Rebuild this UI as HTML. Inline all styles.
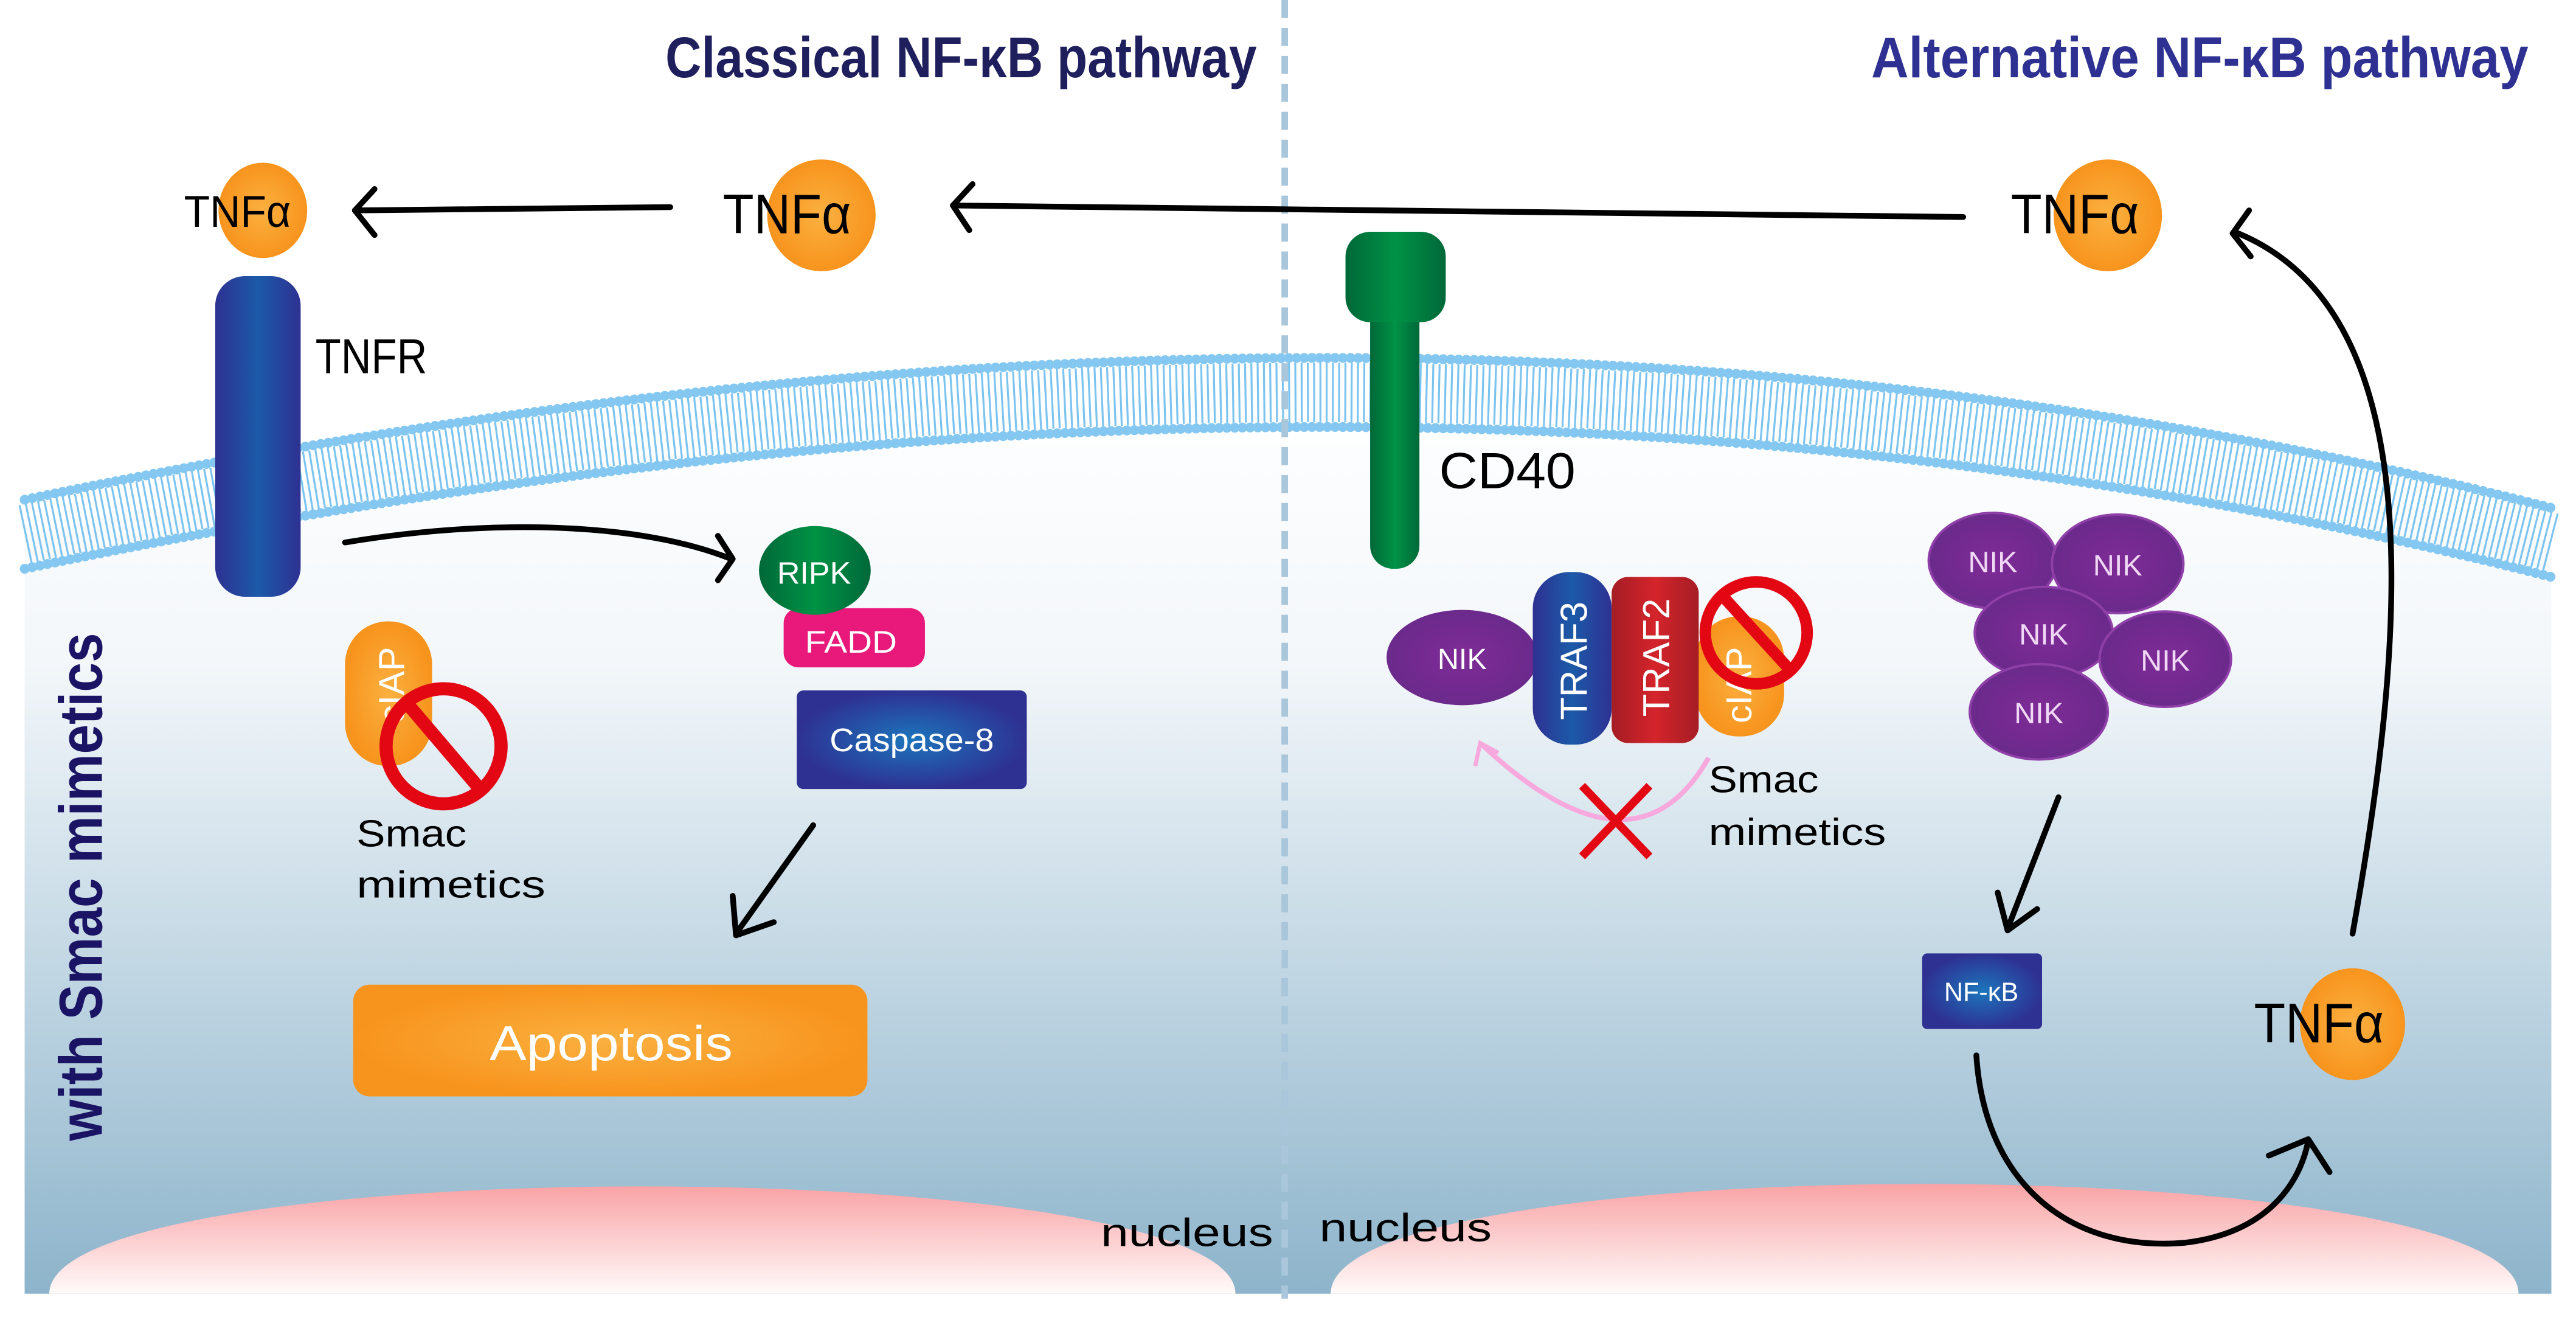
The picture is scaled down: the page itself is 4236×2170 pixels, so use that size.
<!DOCTYPE html>
<html><head><meta charset="utf-8"><style>html,body{margin:0;padding:0;background:#fff;}svg{display:block;}</style></head>
<body>
<svg width="4236" height="2170" viewBox="0 0 1568 803" preserveAspectRatio="none" xmlns="http://www.w3.org/2000/svg" font-family="Liberation Sans, sans-serif">
<defs>
<linearGradient id="cell" x1="0" y1="0" x2="0" y2="1" gradientUnits="objectBoundingBox">
<stop offset="0" stop-color="#ffffff"/><stop offset="0.3" stop-color="#f3f7fa"/><stop offset="1" stop-color="#8db4cb"/></linearGradient>
<linearGradient id="nuc" x1="0" y1="0" x2="0" y2="1"><stop offset="0" stop-color="#f9a3a5"/><stop offset="1" stop-color="#fffafa"/></linearGradient>
<radialGradient id="org"><stop offset="0" stop-color="#fbb040"/><stop offset="1" stop-color="#f7941d"/></radialGradient>
<radialGradient id="blu"><stop offset="0" stop-color="#1c75bc"/><stop offset="1" stop-color="#2e3192"/></radialGradient>
<linearGradient id="bluh" x1="0" x2="1"><stop offset="0" stop-color="#2e3192"/><stop offset="0.5" stop-color="#1c5aa8"/><stop offset="1" stop-color="#2e3192"/></linearGradient>
<linearGradient id="grn" x1="0" x2="1"><stop offset="0" stop-color="#006838"/><stop offset="0.5" stop-color="#009245"/><stop offset="1" stop-color="#006838"/></linearGradient>
<radialGradient id="pur"><stop offset="0" stop-color="#7f2b97"/><stop offset="1" stop-color="#6b2a8c"/></radialGradient>
<linearGradient id="red" x1="0" x2="1"><stop offset="0" stop-color="#a51d24"/><stop offset="0.5" stop-color="#d4242b"/><stop offset="1" stop-color="#a51d24"/></linearGradient>
</defs>
<rect width="1568" height="803" fill="#fff"/>
<path d="M15,325 Q850,150 1553,330 L1553,787 L15,787 Z" fill="url(#cell)"/>
<path d="M30,787 C30,700 752,700 752,787 Z" fill="url(#nuc)"/>
<path d="M810,787 C810,698 1533,698 1533,787 Z" fill="url(#nuc)"/>
<!-- membrane -->
<path d="M15,325 Q850,150 1553,330" fill="none" stroke="#7cc4f0" stroke-width="36" stroke-dasharray="1.2 2.6"/>
<path d="M15,304 Q850,129 1553,309" fill="none" stroke="#84c8f2" stroke-width="6" stroke-dasharray="0.1 4.6" stroke-linecap="round"/>
<path d="M15,346 Q850,171 1553,351" fill="none" stroke="#84c8f2" stroke-width="6" stroke-dasharray="0.1 4.6" stroke-linecap="round"/>
<line x1="782" y1="0" x2="782" y2="790" stroke="#a9c6da" stroke-width="4" stroke-dasharray="11 6"/>
<text x="405" y="47" font-size="35" font-weight="bold" fill="#1f1f5e" textLength="360" lengthAdjust="spacingAndGlyphs">Classical NF-κB pathway</text>
<text x="1139" y="47" font-size="35" font-weight="bold" fill="#2e3192" textLength="400" lengthAdjust="spacingAndGlyphs">Alternative NF-κB pathway</text>
<ellipse cx="160" cy="128" rx="27" ry="29" fill="url(#org)"/>
<text x="112" y="138" font-size="27" textLength="65" lengthAdjust="spacingAndGlyphs">TNFα</text>
<ellipse cx="500" cy="131" rx="33" ry="34" fill="url(#org)"/>
<text x="440" y="142" font-size="34" textLength="78" lengthAdjust="spacingAndGlyphs">TNFα</text>
<ellipse cx="1283" cy="131" rx="33" ry="34" fill="url(#org)"/>
<text x="1224" y="142" font-size="34" textLength="78" lengthAdjust="spacingAndGlyphs">TNFα</text>
<g fill="none" stroke="#000" stroke-width="3.5" stroke-linecap="round" stroke-linejoin="round">
<path d="M408,126 L216,128"/><path d="M228,115 L216,128 L228,143"/>
<path d="M1195,132 L580,125"/><path d="M592,112 L580,125 L590,140"/>
<path d="M1432,568 C1462,400 1485,190 1360,141"/><path d="M1369,128 L1359,142 L1370,156"/>
<path d="M210,330 C300,315 390,318 445,340"/><path d="M437,326 L446,340 L437,353"/>
<path d="M495,502 L448,568"/><path d="M446,545 L448,569 L471,561"/>
<path d="M1253,485 L1222,565"/><path d="M1216,543 L1222,566 L1240,553"/>
<path d="M1203,642 C1208,720 1260,762 1330,756 C1380,750 1400,720 1405,694"/><path d="M1381,703 L1405,693 L1418,713"/>
</g>
<rect x="131" y="168" width="52" height="195" rx="18" fill="url(#bluh)"/>
<text x="192" y="227" font-size="30" textLength="68" lengthAdjust="spacingAndGlyphs">TNFR</text>
<rect x="477" y="370" width="86" height="36" rx="9" fill="#e8197a"/>
<text x="490" y="397" font-size="19" fill="#fff" textLength="56" lengthAdjust="spacingAndGlyphs">FADD</text>
<ellipse cx="496" cy="347" rx="34" ry="27" fill="url(#grn)"/>
<text x="473" y="355" font-size="19" fill="#fff" textLength="45" lengthAdjust="spacingAndGlyphs">RIPK</text>
<rect x="485" y="420" width="140" height="60" rx="4" fill="url(#blu)"/>
<text x="555" y="457" font-size="20" fill="#fff" text-anchor="middle" textLength="100" lengthAdjust="spacingAndGlyphs">Caspase-8</text>
<rect x="215" y="599" width="313" height="68" rx="10" fill="url(#org)"/>
<text x="372" y="645" font-size="30" fill="#fff" text-anchor="middle" textLength="148" lengthAdjust="spacingAndGlyphs">Apoptosis</text>
<rect x="210" y="378" width="53" height="88" rx="26" fill="url(#org)"/>
<text transform="translate(246,440) rotate(-90)" font-size="22" fill="#fff">cIAP</text>
<circle cx="270" cy="454" r="35" fill="none" stroke="#e30613" stroke-width="8"/>
<line x1="247" y1="427" x2="293" y2="481" stroke="#e30613" stroke-width="8"/>
<text x="217" y="515" font-size="23" textLength="67" lengthAdjust="spacingAndGlyphs">Smac</text>
<text x="217" y="546" font-size="23" textLength="115" lengthAdjust="spacingAndGlyphs">mimetics</text>
<text transform="translate(62,694) rotate(-90)" font-size="37" font-weight="bold" fill="#1b1464" textLength="309" lengthAdjust="spacingAndGlyphs">with Smac mimetics</text>
<text x="670" y="758" font-size="24" textLength="105" lengthAdjust="spacingAndGlyphs">nucleus</text>
<text x="803" y="755" font-size="24" textLength="105" lengthAdjust="spacingAndGlyphs">nucleus</text>
<rect x="834" y="180" width="30" height="166" rx="14" fill="url(#grn)"/>
<rect x="819" y="141" width="61" height="55" rx="15" fill="url(#grn)"/>
<text x="876" y="297" font-size="31" textLength="83" lengthAdjust="spacingAndGlyphs">CD40</text>
<ellipse cx="890" cy="400" rx="46" ry="29" fill="url(#pur)"/>
<text x="890" y="407" font-size="18" fill="#fff" text-anchor="middle">NIK</text>
<rect x="1032" y="375" width="54" height="73" rx="26" fill="url(#org)"/>
<text transform="translate(1066,440) rotate(-90)" font-size="22" fill="#fff">cIAP</text>
<rect x="981" y="351" width="53" height="101" rx="10" fill="url(#red)"/>
<text transform="translate(1016,436) rotate(-90)" font-size="23" fill="#fff" textLength="72" lengthAdjust="spacingAndGlyphs">TRAF2</text>
<rect x="933" y="348" width="48" height="105" rx="22" fill="url(#bluh)"/>
<text transform="translate(966,438) rotate(-90)" font-size="23" fill="#fff" textLength="72" lengthAdjust="spacingAndGlyphs">TRAF3</text>
<circle cx="1069" cy="385" r="31" fill="none" stroke="#e30613" stroke-width="7"/>
<line x1="1048" y1="362" x2="1090" y2="408" stroke="#e30613" stroke-width="7"/>
<path d="M1040,461 Q995,540 902,453" fill="none" stroke="#f7a8dc" stroke-width="3"/>
<path d="M898,466 L901,452 L912,458" fill="none" stroke="#f7a8dc" stroke-width="2.5"/>
<g stroke="#e30613" stroke-width="5"><line x1="963" y1="478" x2="1004" y2="521"/><line x1="1004" y1="478" x2="963" y2="521"/></g>
<text x="1040" y="482" font-size="23" textLength="67" lengthAdjust="spacingAndGlyphs">Smac</text>
<text x="1040" y="514" font-size="23" textLength="108" lengthAdjust="spacingAndGlyphs">mimetics</text>
<g fill="url(#pur)" stroke="#8e3fa8" stroke-width="1.5">
<ellipse cx="1213" cy="341" rx="39" ry="29"/>
<ellipse cx="1289" cy="343" rx="40" ry="30"/>
<ellipse cx="1244" cy="385" rx="42" ry="28"/>
<ellipse cx="1318" cy="401" rx="40" ry="29"/>
<ellipse cx="1241" cy="433" rx="42" ry="29"/>
</g>
<g font-size="18" fill="#f0d8f5" text-anchor="middle">
<text x="1213" y="348">NIK</text><text x="1289" y="350">NIK</text><text x="1244" y="392">NIK</text><text x="1318" y="408">NIK</text><text x="1241" y="440">NIK</text>
</g>
<rect x="1170" y="580" width="73" height="46" rx="3" fill="url(#blu)"/>
<text x="1206" y="609" font-size="16" fill="#fff" text-anchor="middle">NF-κB</text>
<ellipse cx="1432" cy="623" rx="32" ry="34" fill="url(#org)"/>
<text x="1372" y="634" font-size="34" textLength="79" lengthAdjust="spacingAndGlyphs">TNFα</text>
</svg>
</body></html>
